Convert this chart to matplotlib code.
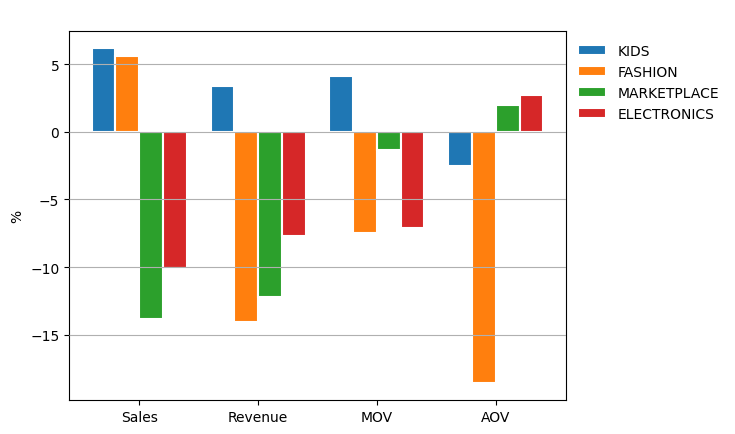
import numpy as np
import matplotlib
matplotlib.use("Agg")
import matplotlib.pyplot as plt

# metrics and % change per category
metrics = ["Sales", "Revenue", "MOV", "AOV"]
kids = [6.2, 3.4, 4.1, -2.5]
fashion = [5.6, -14.1, -7.5, -18.6]
marketplace = [-13.85, -12.2, -1.35, 1.95]
electronics = [-10.1, -7.7, -7.1, 2.7]

series = {"KIDS": kids, "FASHION": fashion,
          "MARKETPLACE": marketplace, "ELECTRONICS": electronics}

fig, ax = plt.subplots(figsize=(7.35, 4.35), dpi=100)
fig.subplots_adjust(left=0.094, right=0.77, top=0.926, bottom=0.078)

x = np.arange(len(metrics))
width = 0.2
for i, (name, vals) in enumerate(series.items()):
    ax.bar(x + (i - 1.5) * width, vals, width, label=name,
           edgecolor="white", linewidth=1.5)

ax.set_xticks(x)
ax.set_xticklabels(metrics)
ax.set_ylabel("%")
ax.yaxis.grid(True, color="#b0b0b0")
ax.set_axisbelow(False)
ax.legend(loc="upper left", bbox_to_anchor=(1, 1), frameon=False)

plt.savefig("out.png")
